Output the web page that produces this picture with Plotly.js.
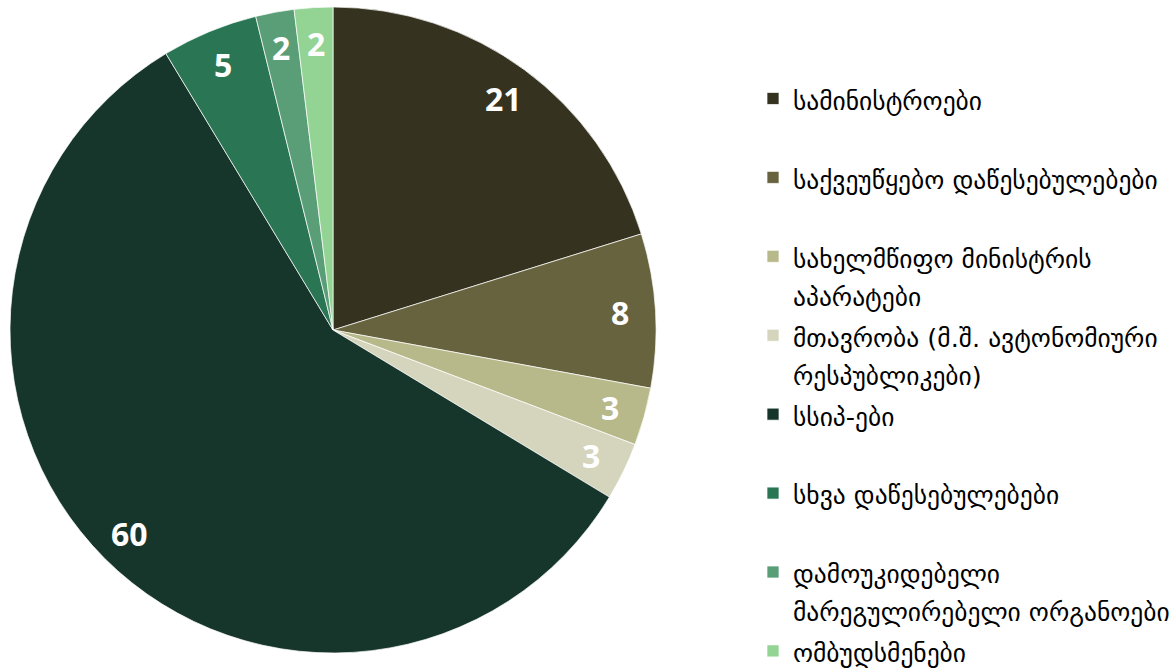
<!DOCTYPE html>
<html>
<head>
<meta charset="utf-8">
<script src="https://cdn.plot.ly/plotly-3.0.1.min.js"></script>
<style>html,body{margin:0;padding:0;background:#fff;}#chart{width:1173px;height:670px;}</style>
</head>
<body>
<div id="chart"></div>
<script>
const categories = [
  "სამინისტროები",
  "საქვეუწყებო დაწესებულებები",
  "სახელმწიფო მინისტრის<br>აპარატები",
  "მთავრობა (მ.შ. ავტონომიური<br>რესპუბლიკები)",
  "სსიპ-ები",
  "სხვა დაწესებულებები",
  "დამოუკიდებელი<br>მარეგულირებელი ორგანოები",
  "ომბუდსმენები"
];
const values = [21, 8, 3, 3, 60, 5, 2, 2];
const colors = ["#35331f", "#67633e", "#b8b98a", "#d5d5bd", "#17362b", "#2a7654", "#5a9e78", "#93d393"];

const W = 1173, H = 670;
const cx = 333, cy = 330, R = 323;
const legendFontPx = 25.5;

function legendText(t, i) {
  const lines = t.split("<br>");
  if (lines.length < 2 && i < categories.length - 1) lines.push("&nbsp;");
  return lines.map(l => "<span style='font-size:" + legendFontPx + "px'>" + l + "</span>").join("<br>");
}

const trace = {
  type: "pie",
  labels: categories.map(legendText),
  values: values,
  sort: false,
  direction: "clockwise",
  rotation: 0,
  textinfo: "none",
  hoverinfo: "label+value",
  marker: {colors: colors, line: {color: "rgba(255,255,255,0.7)", width: 1}},
  domain: {x: [(cx - R) / W, (cx + R) / W], y: [1 - (cy + R) / H, 1 - (cy - R) / H]}
};

// labels placed along each slice's mid-angle, derived from the values
const total = values.reduce((a, b) => a + b, 0);
const annotations = [];
let cum = 0;
const labelR = 0.89 * R;
values.forEach(v => {
  const mid = (cum + v / 2) / total * 2 * Math.PI;
  cum += v;
  const px = cx + labelR * Math.sin(mid);
  const py = cy - labelR * Math.cos(mid);
  annotations.push({
    x: px / W, y: 1 - py / H, xref: "paper", yref: "paper",
    text: String(v), showarrow: false,
    font: {family: "Open Sans, sans-serif", size: 32, color: "#ffffff", weight: 700},
    xanchor: "center", yanchor: "middle"
  });
});

const layout = {
  width: W, height: H,
  margin: {l: 0, r: 0, t: 0, b: 0, autoexpand: false},
  paper_bgcolor: "#ffffff",
  showlegend: true,
  legend: {
    x: 753 / W, y: 1 - 73 / H, xanchor: "left", yanchor: "top",
    font: {family: "DejaVu Sans, sans-serif", size: 29.2, color: "#000000"},
    valign: "top", bgcolor: "rgba(0,0,0,0)", borderwidth: 0,
    maxheight: 2000
  },
  annotations: annotations
};

Plotly.newPlot("chart", [trace], layout, {displayModeBar: false, staticPlot: true});
</script>
</body>
</html>
